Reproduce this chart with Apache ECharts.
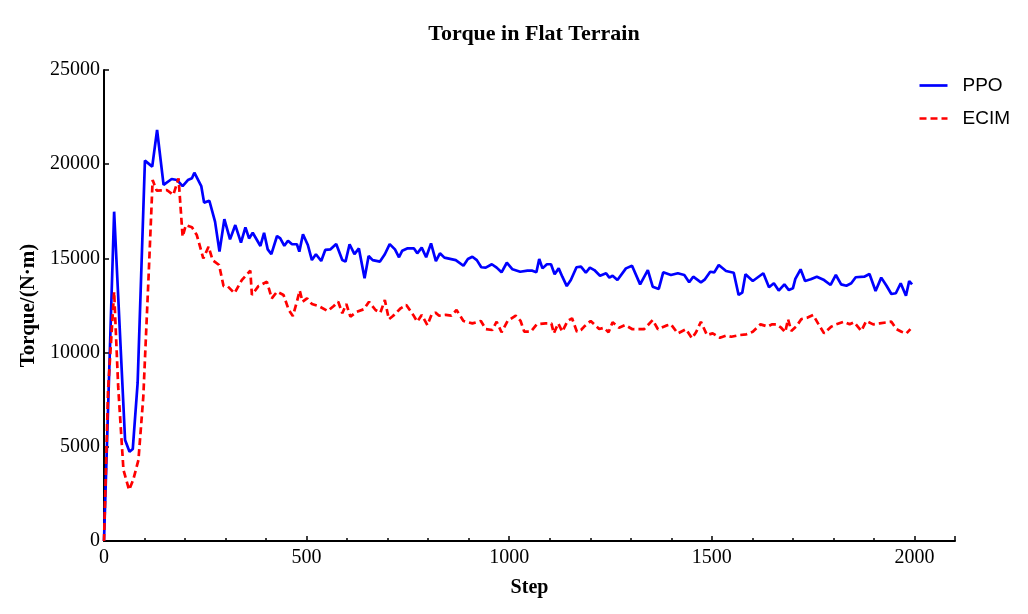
<!DOCTYPE html>
<html>
<head>
<meta charset="utf-8">
<script src="https://cdn.jsdelivr.net/npm/echarts@6/dist/echarts.min.js"></script>
<style>html,body{margin:0;padding:0;background:#fff}#c{width:1028px;height:614px}</style>
</head>
<body>
<div id="c"></div>
<script>
const ppoSteps = [0,25,52,63,71,83,101,119,131,147,167,180,194,207,217,223,240,247,260,274,285,297,311,324,338,349,358,367,386,395,404,413,427,435,445,454,464,476,482,491,503,513,523,536,546,559,573,588,596,606,618,629,643,653,663,681,693,705,718,728,736,748,765,773,784,795,807,819,829,840,868,887,898,909,920,931,942,957,969,981,994,1008,1027,1045,1057,1067,1074,1082,1093,1103,1112,1122,1131,1142,1152,1166,1177,1189,1199,1210,1224,1239,1247,1255,1267,1288,1303,1323,1342,1354,1369,1380,1399,1416,1432,1444,1454,1473,1483,1496,1506,1517,1535,1554,1566,1575,1583,1601,1627,1641,1653,1665,1679,1690,1700,1706,1719,1730,1744,1759,1777,1793,1806,1819,1832,1844,1855,1876,1889,1904,1918,1931,1943,1954,1966,1979,1987,1994];
const ppoTorque = [0,17480,5360,4740,4880,8390,20190,19870,21815,18900,19215,19160,18840,19160,19250,19550,18840,17960,18060,16950,15360,17080,16010,16770,15840,16650,16060,16360,15660,16360,15480,15230,16190,16060,15670,15940,15750,15750,15360,16280,15710,14910,15220,14860,15450,15480,15760,14910,14830,15750,15230,15530,13940,15130,14910,14830,15220,15760,15480,15060,15410,15530,15530,15270,15570,15060,15800,14850,15270,15040,14910,14610,14970,15090,14910,14530,14510,14690,14510,14260,14770,14420,14290,14350,14350,14260,14970,14470,14690,14690,14160,14470,14030,13530,13850,14530,14560,14240,14510,14380,14080,14210,13980,14080,13850,14470,14610,13620,14380,13500,13380,14260,14120,14210,14120,13730,14030,13730,13890,14290,14260,14650,14330,14240,13060,13180,14160,13800,14210,13470,13680,13290,13620,13320,13410,13910,14420,13800,13890,14030,13850,13590,14120,13620,13550,13680,14000,14030,14170,13270,13980,13550,13110,13150,13680,13020,13800,13620];

const ecimSteps = [0,10,25,35,48,62,72,85,97,110,120,130,155,171,184,194,202,217,229,245,258,268,284,295,306,322,340,361,365,381,402,414,427,443,456,466,476,483,490,501,513,530,552,567,578,588,598,608,624,641,654,670,682,693,703,713,732,746,763,773,784,798,808,818,827,843,857,870,887,909,930,942,958,969,981,996,1016,1028,1037,1053,1068,1090,1104,1110,1121,1131,1144,1155,1167,1177,1185,1201,1222,1234,1245,1255,1271,1286,1304,1333,1354,1367,1387,1399,1416,1436,1451,1461,1473,1488,1502,1520,1535,1548,1568,1585,1601,1620,1638,1648,1659,1671,1681,1688,1696,1708,1721,1735,1750,1762,1777,1795,1807,1826,1840,1851,1869,1881,1898,1914,1943,1955,1968,1980,1990];
const ecimTorque = [0,8000,13230,8190,3770,2710,3240,4300,7660,14030,19160,18600,18630,18370,19250,16150,16770,16650,16240,15000,15620,14910,14650,13530,13500,13150,13850,14350,13060,13530,13760,12880,13230,13060,12260,11940,12700,13290,12700,12880,12580,12470,12210,12470,12700,12090,12580,11910,12170,12300,12700,12260,12120,12790,11770,11940,12350,12530,12000,11640,12000,11460,12000,12120,11960,12000,11960,12260,11680,11550,11680,11250,11200,11640,11080,11680,11960,11680,11110,11110,11500,11550,11550,11020,11550,11110,11680,11820,11110,11200,11380,11680,11250,11320,11080,11610,11320,11460,11240,11250,11730,11240,11430,11500,11020,11240,10760,11080,11640,10930,11020,10790,10900,10840,10930,10970,11110,11500,11380,11500,11500,11320,11080,11770,11150,11380,11780,11850,12000,11550,11020,11380,11500,11640,11500,11610,11150,11680,11500,11550,11640,11250,11110,11020,11250];

const xTicks = [0, 500, 1000, 1500, 2000];
const yTicks = [0, 5000, 10000, 15000, 20000, 25000];

const pairs = (xs, ys) => xs.map((x, i) => [x, ys[i]]);
const serif = '"Liberation Serif","Times New Roman",serif';

const chart = echarts.init(document.getElementById('c'), null, {renderer: 'canvas'});
chart.setOption({
  animation: false,
  backgroundColor: '#fff',
  title: {
    text: 'Torque in Flat Terrain',
    left: 529, top: 18, textAlign: 'center',
    textStyle: {fontFamily: serif, fontWeight: 'bold', fontSize: 22, color: '#000'}
  },
  legend: {
    orient: 'vertical', right: 13, top: 71, itemGap: 14,
    itemWidth: 28, itemHeight: 14,
    itemStyle: {opacity: 0},
    lineStyle: {width: 2.7},
    textStyle: {fontFamily: '"Liberation Sans",Arial,sans-serif', fontSize: 19, color: '#000', padding: [0, 0, 0, 10]},
    data: ['PPO', 'ECIM']
  },
  grid: {left: 104, right: 73, top: 70, bottom: 73, containLabel: false},
  xAxis: {
    type: 'value', min: 0, max: 2100, interval: 500,
    name: 'Step', nameLocation: 'middle', nameGap: 37,
    nameTextStyle: {fontFamily: serif, fontWeight: 'bold', fontSize: 20, color: '#000'},
    axisLine: {lineStyle: {color: '#000', width: 2}},
    axisTick: {inside: true, length: 5, lineStyle: {color: '#000', width: 1.5}},
    minorTick: {show: true, splitNumber: 5, length: 3, lineStyle: {color: '#000', width: 1.5}},
    axisLabel: {fontFamily: serif, fontSize: 20, color: '#000', margin: 7, showMaxLabel: false,
      formatter: v => xTicks.includes(v) ? String(v) : ''},
    splitLine: {show: false}
  },
  yAxis: {
    type: 'value', min: 0, max: 25000, interval: 5000,
    name: 'Torque/(N·m)', nameLocation: 'middle', nameGap: 58,
    nameTextStyle: {fontFamily: serif, fontWeight: 'bold', fontSize: 21, color: '#000'},
    axisLine: {show: true, lineStyle: {color: '#000', width: 2}},
    axisTick: {show: true, inside: true, length: 5, lineStyle: {color: '#000', width: 1.5}},
    axisLabel: {fontFamily: serif, fontSize: 20, color: '#000', margin: 4,
      formatter: v => yTicks.includes(v) ? String(v) : ''},
    splitLine: {show: false}
  },
  series: [
    {
      name: 'PPO', type: 'line', data: pairs(ppoSteps, ppoTorque),
      showSymbol: false, symbol: 'none',
      lineStyle: {color: '#0000ff', width: 2.7},
      itemStyle: {color: '#0000ff'}
    },
    {
      name: 'ECIM', type: 'line', data: pairs(ecimSteps, ecimTorque),
      showSymbol: false, symbol: 'none',
      lineStyle: {color: '#ff0000', width: 2.7, type: [7, 4]},
      itemStyle: {color: '#ff0000'}
    }
  ]
});
</script>
</body>
</html>
